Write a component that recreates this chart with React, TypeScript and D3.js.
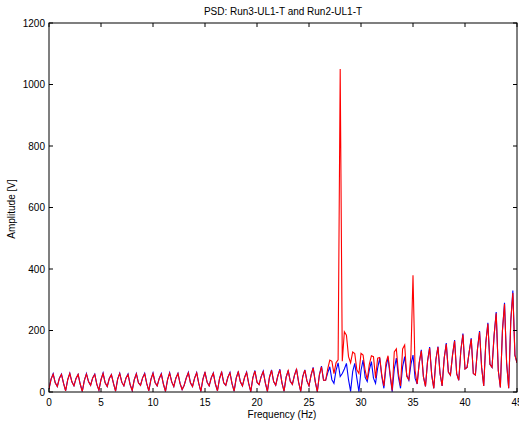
import React from "react";
import * as d3 from "d3";

const TITLE = "PSD: Run3-UL1-T and Run2-UL1-T";
const X_LABEL = "Frequency (Hz)";
const Y_LABEL = "Amplitude [V]";
const X_TICKS = [0, 5, 10, 15, 20, 25, 30, 35, 40, 45];
const Y_TICKS = [0, 200, 400, 600, 800, 1000, 1200];
const F_STEP = 0.2;

// Run2-UL1-T (blue), sampled every 0.2 Hz from 0 to 45 Hz
const run2Blue = [
  10, 42, 60, 30, 18, 45, 58, 28, 4, 40, 61, 33, 20, 44, 57, 26,
  2, 38, 60, 34, 22, 46, 58, 25, 6, 40, 62, 30, 18, 44, 57, 28,
  3, 42, 61, 32, 20, 45, 59, 24, 5, 40, 60, 30, 22, 46, 61, 27,
  4, 41, 62, 31, 20, 44, 60, 26, 2, 40, 63, 33, 18, 45, 61, 28,
  8, 22, 46, 64, 30,
  18, 45, 63, 28, 2, 42, 65, 32, 20, 46, 62, 26, 4, 44, 66, 30,
  22, 48, 64, 27, 3, 45, 67, 33, 20, 47, 65, 28, 1, 46, 70, 32,
  24, 50, 68, 30, 2, 48, 72, 34, 22, 52, 74, 30, 3, 48, 70, 35,
  25, 54, 75, 32, 2, 50, 72, 36, 20, 55, 80, 34, 1, 56, 84, 38,
  38, 62, 82, 40, 28, 70, 95, 50, 60, 75, 93, 40, 2, 66, 93, 45,
  1, 70, 104, 48, 34, 72, 99, 45, 28, 78, 110, 50, 12, 80, 112, 52,
  1, 75, 110, 48, 12, 82, 115, 55, 38, 90, 120, 45, 26, 95, 137, 50,
  18, 100, 146, 55, 12, 105, 148, 60, 20, 110, 159, 65, 55, 120, 169, 60,
  38, 135, 190, 75, 80, 130, 175, 60, 55, 140, 198, 80, 20, 160, 225, 90,
  80, 185, 260, 70, 15, 200, 290, 95, 12, 230, 330, 120,
  95,
];

// Run3-UL1-T (red), sampled every 0.2 Hz from 0 to 45 Hz
const run3Red = [
  10, 42, 58, 30, 18, 45, 57, 28, 4, 40, 60, 33, 20, 44, 57, 26,
  2, 38, 58, 34, 22, 46, 57, 25, 6, 40, 60, 30, 18, 44, 56, 28,
  3, 42, 60, 32, 20, 45, 57, 24, 5, 40, 59, 30, 22, 46, 59, 27,
  4, 41, 60, 31, 20, 44, 58, 26, 2, 40, 61, 33, 18, 45, 60, 28,
  8, 22, 46, 62, 30,
  18, 45, 62, 28, 2, 42, 63, 32, 20, 46, 61, 26, 4, 44, 64, 30,
  22, 48, 62, 27, 3, 45, 65, 33, 20, 47, 63, 28, 1, 46, 68, 32,
  24, 50, 66, 30, 2, 48, 70, 34, 22, 52, 72, 30, 3, 48, 69, 35,
  25, 54, 73, 32, 2, 50, 71, 36, 20, 55, 78, 34, 1, 56, 82, 38,
  38, 75, 104, 100, 60, 95, 105, 1050, 100, 196, 185, 115, 95, 130, 125, 72,
  60, 126, 120, 70, 40, 90, 118, 115, 45, 110, 112, 55, 20, 95, 118, 60,
  5, 130, 140, 60, 20, 140, 153, 50, 40, 120, 380, 70, 26, 95, 134, 50,
  18, 100, 143, 55, 12, 105, 146, 60, 20, 110, 156, 65, 55, 120, 166, 60,
  38, 135, 187, 75, 80, 130, 172, 60, 55, 140, 195, 80, 20, 160, 222, 90,
  80, 185, 256, 70, 15, 200, 286, 95, 12, 230, 322, 120,
  95,
];

const W = 519;
const H = 423;
const PL = 49;
const PR = 517;
const PT = 23;
const PB = 392;
const FONT = "'Liberation Sans', Arial, Helvetica, sans-serif";

export default function App() {
  const x = d3.scaleLinear().domain([0, 45]).range([PL, PR]);
  const y = d3.scaleLinear().domain([0, 1200]).range([PB, PT]);
  const line = d3
    .line<number>()
    .x((_, i) => x(i * F_STEP))
    .y((d) => y(d));
  const tickLen = 4;

  return (
    <svg
      width={W}
      height={H}
      style={{ position: "absolute", left: 0, top: 0, background: "#fff" }}
      fontFamily={FONT}
    >
      <rect x={0} y={0} width={W} height={H} fill="#fff" />
      <defs>
        <clipPath id="plotClip">
          <rect x={PL} y={PT} width={PR - PL} height={PB - PT} />
        </clipPath>
      </defs>
      <g clipPath="url(#plotClip)">
        <path d={line(run2Blue) || ""} fill="none" stroke="#0000ff" strokeWidth={1.1} />
        <path d={line(run3Red) || ""} fill="none" stroke="#ff0000" strokeWidth={1.1} />
      </g>
      {/* axes box */}
      <rect x={PL} y={PT} width={PR - PL} height={PB - PT} fill="none" stroke="#000" strokeWidth={1} />
      {X_TICKS.map((t) => (
        <g key={"xt" + t}>
          <line x1={x(t)} x2={x(t)} y1={PB} y2={PB - tickLen} stroke="#000" />
          <line x1={x(t)} x2={x(t)} y1={PT} y2={PT + tickLen} stroke="#000" />
          <text x={x(t)} y={406} fontSize={10} textAnchor="middle" fill="#000">
            {t}
          </text>
        </g>
      ))}
      {Y_TICKS.map((t) => (
        <g key={"yt" + t}>
          <line x1={PL} x2={PL + tickLen} y1={y(t)} y2={y(t)} stroke="#000" />
          <line x1={PR} x2={PR - tickLen} y1={y(t)} y2={y(t)} stroke="#000" />
          <text x={45} y={y(t) + 3.5} fontSize={10} textAnchor="end" fill="#000">
            {t}
          </text>
        </g>
      ))}
      <text x={283} y={15} fontSize={10} textAnchor="middle" fill="#000">
        {TITLE}
      </text>
      <text x={282} y={418} fontSize={10} textAnchor="middle" fill="#000">
        {X_LABEL}
      </text>
      <text
        x={0}
        y={0}
        fontSize={10}
        textAnchor="middle"
        fill="#000"
        transform={`translate(15, 209) rotate(-90)`}
      >
        {Y_LABEL}
      </text>
    </svg>
  );
}
